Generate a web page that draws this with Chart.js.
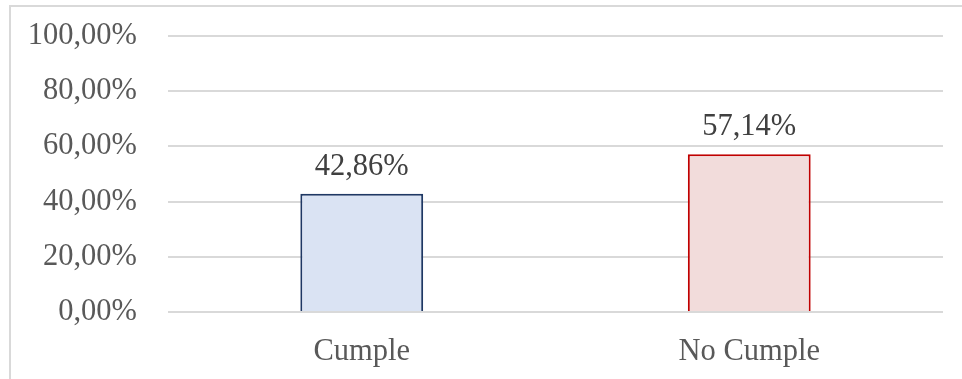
<!DOCTYPE html>
<html>
<head>
<meta charset="utf-8">
<script src="https://cdn.jsdelivr.net/npm/chart.js@4.4.1/dist/chart.umd.min.js"></script>
<style>
  html, body { margin: 0; padding: 0; background: #ffffff; overflow: hidden; }
  #frame {
    position: absolute; left: 9px; top: 5px; width: 1000px; height: 400px;
    border-left: 2px solid #d9d9d9; border-top: 2px solid #d9d9d9;
  }
  #wrap { position: absolute; left: 0; top: 0; width: 962px; height: 379px; }
</style>
</head>
<body>
<div id="frame"></div>
<div id="wrap"><canvas id="chart" width="962" height="379"></canvas></div>
<script>
// Categories and their shares (percent)
const categories = ["Cumple", "No Cumple"];
const shares = [42.86, 57.14];
const yTicks = [0, 20, 40, 60, 80, 100];

const fillColors = ["#dae3f3", "#f2dcdb"];
const edgeColors = ["#1f3864", "#c00000"];

const fmtPct = v => v.toFixed(2).replace(".", ",") + "%";
const serif = "'Liberation Serif', 'Times New Roman', serif";
const fontSize = 30.5;

// Writes each bar's value just above it
const valueLabels = {
  id: "valueLabels",
  afterDatasetsDraw(chart) {
    const ctx = chart.ctx;
    const meta = chart.getDatasetMeta(0);
    ctx.save();
    ctx.font = fontSize + "px " + serif;
    ctx.fillStyle = "#404040";
    ctx.textAlign = "center";
    ctx.textBaseline = "alphabetic";
    meta.data.forEach((bar, i) => {
      ctx.fillText(fmtPct(shares[i]), bar.x, bar.y - 19);
    });
    ctx.restore();
  }
};

new Chart(document.getElementById("chart"), {
  type: "bar",
  data: {
    labels: categories,
    datasets: [{
      data: shares,
      backgroundColor: fillColors,
      borderColor: edgeColors,
      borderWidth: 2,
      barPercentage: 0.317,
      categoryPercentage: 1.0
    }]
  },
  options: {
    responsive: false,
    animation: false,
    layout: { padding: { top: 36, right: 19, bottom: 0, left: 0 } },
    plugins: { legend: { display: false }, tooltip: { enabled: false } },
    scales: {
      x: {
        grid: { display: false },
        border: { display: false },
        ticks: { color: "#595959", font: { family: serif, size: fontSize }, padding: 14 },
        afterFit(s) { s.height = 67; }
      },
      y: {
        min: 0, max: 100,
        afterBuildTicks(s) { s.ticks = yTicks.map(v => ({ value: v })); },
        grid: { color: "#d9d9d9", lineWidth: 2, drawTicks: false },
        border: { display: false },
        ticks: {
          color: "#595959",
          font: { family: serif, size: fontSize },
          padding: 31,
          callback: v => fmtPct(v)
        },
        afterFit(s) { s.width = 168; s.paddingTop = 0; s.paddingBottom = 0; }
      }
    }
  },
  plugins: [valueLabels]
});
</script>
</body>
</html>
